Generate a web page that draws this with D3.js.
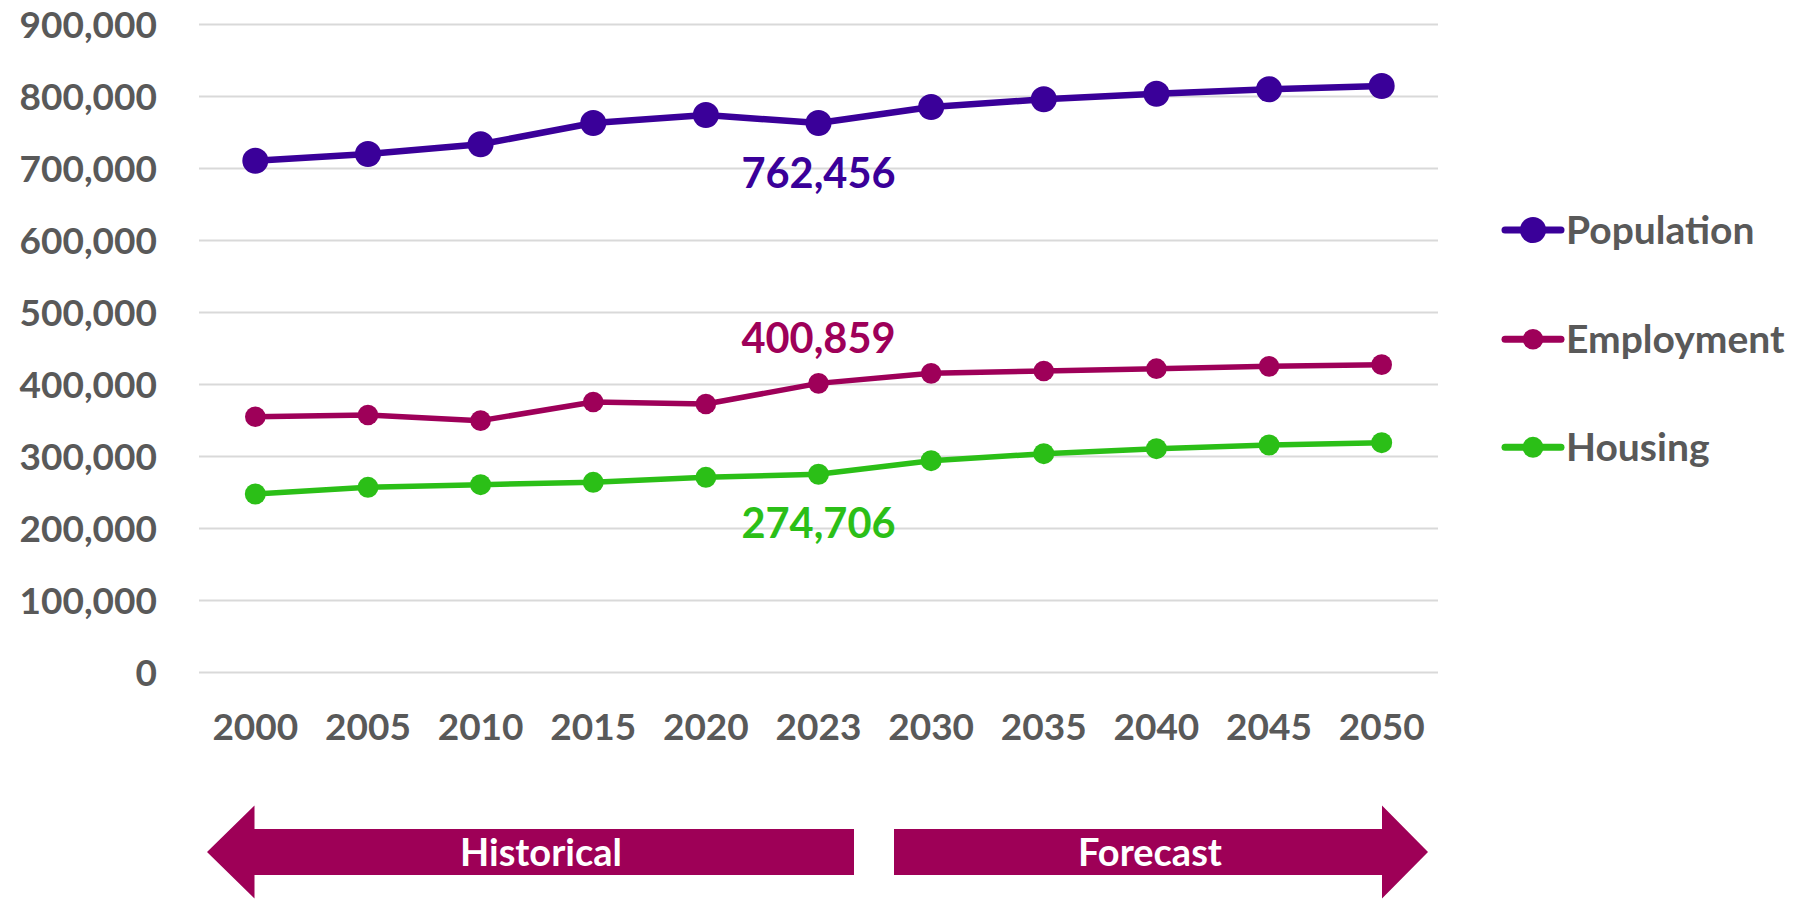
<!DOCTYPE html>
<html>
<head>
<meta charset="utf-8">
<script src="https://cdn.jsdelivr.net/npm/d3@7"></script>
<style>
  html, body { margin: 0; padding: 0; background: #ffffff; }
  svg { display: block; }
  text { font-family: Lato, "Open Sans", sans-serif; font-weight: 700; }
</style>
</head>
<body>
<svg id="chart" width="1807" height="899"></svg>
<script>
// ---- data ----
const years = ["2000","2005","2010","2015","2020","2023","2030","2035","2040","2045","2050"];
const population = [710000, 719500, 733000, 762500, 773600, 762456, 784700, 795400, 803200, 809300, 813900];
const employment = [354600, 356900, 349100, 375000, 372200, 400859, 414800, 418000, 421300, 424500, 426900];
const housing    = [247200, 256500, 260200, 263400, 270400, 274706, 293500, 303200, 310200, 315300, 318500];
const yTicks = [0, 100000, 200000, 300000, 400000, 500000, 600000, 700000, 800000, 900000];
const seriesNames = ["Population", "Employment", "Housing"];
const labelYear = "2023";
const periodLabels = ["Historical", "Forecast"];

// ---- styles ----
const colors = { Population: "#3A0099", Employment: "#9E0059", Housing: "#2BBF17" };
const lineW = { Population: 6.5, Employment: 5.5, Housing: 5.5 };
const markR = { Population: 13, Employment: 10.3, Housing: 10.5 };
const axisColor = "#595959";
const gridColor = "#d9d9d9";
const arrowColor = "#9E0057";

const svg = d3.select("#chart");
const plotL = 199, plotR = 1438, plotT = 24, plotB = 672;

const x = d3.scaleBand().domain(years).range([plotL, plotR]).paddingInner(0).paddingOuter(0);
const cx = d => x(d) + x.bandwidth() / 2;
const y = d3.scaleLinear().domain([0, 900000]).range([plotB, plotT]);

// ---- y axis with gridlines ----
const yAxis = svg.append("g")
  .attr("transform", `translate(${plotL},0)`)
  .call(d3.axisLeft(y).tickValues(yTicks).tickFormat(d3.format(",")).tickSize(-(plotR - plotL)).tickPadding(42));
yAxis.select(".domain").remove();
yAxis.selectAll(".tick line").attr("stroke", gridColor).attr("stroke-width", 2);
yAxis.selectAll(".tick text")
  .attr("fill", axisColor)
  .style("font-size", "37px")
  .style("font-family", "Lato, sans-serif")
  .style("font-weight", 700)
  .attr("dy", "0.36em");

// ---- x axis ----
const xAxis = svg.append("g")
  .attr("transform", `translate(0,${plotB})`)
  .call(d3.axisBottom(x).tickSize(0));
xAxis.select(".domain").remove();
xAxis.selectAll(".tick text")
  .attr("fill", axisColor)
  .attr("y", 68)
  .attr("dy", 0)
  .style("font-size", "37px")
  .style("font-family", "Lato, sans-serif")
  .style("font-weight", 700);

// ---- series ----
const seriesData = { Population: population, Employment: employment, Housing: housing };
const line = d3.line().x(d => cx(d.year)).y(d => y(d.value));

seriesNames.forEach(name => {
  const pts = years.map((yr, i) => ({ year: yr, value: seriesData[name][i] }));
  svg.append("path")
    .datum(pts)
    .attr("fill", "none")
    .attr("stroke", colors[name])
    .attr("stroke-width", lineW[name])
    .attr("stroke-linejoin", "round")
    .attr("d", line);
  svg.append("g").selectAll("circle")
    .data(pts)
    .join("circle")
    .attr("cx", d => cx(d.year))
    .attr("cy", d => y(d.value))
    .attr("r", markR[name])
    .attr("fill", colors[name]);
});

// ---- value labels at 2023 ----
const fmt = d3.format(",");
const li = years.indexOf(labelYear);
const labelOffsets = { Population: 64.7, Employment: -30.7, Housing: 64 };
seriesNames.forEach(name => {
  const v = seriesData[name][li];
  svg.append("text")
    .attr("x", cx(labelYear))
    .attr("y", y(v) + labelOffsets[name])
    .attr("text-anchor", "middle")
    .attr("fill", colors[name])
    .style("font-size", "41.5px")
    .text(fmt(v));
});

// ---- legend ----
const legendRows = [230, 339.3, 447.3];
seriesNames.forEach((name, i) => {
  const g = svg.append("g").attr("transform", `translate(0,${legendRows[i]})`);
  g.append("line")
    .attr("x1", 1505).attr("x2", 1561).attr("y1", 0).attr("y2", 0)
    .attr("stroke", colors[name]).attr("stroke-width", 7).attr("stroke-linecap", "round");
  g.append("circle").attr("cx", 1533).attr("cy", 0).attr("r", markR[name]).attr("fill", colors[name]);
  g.append("text")
    .attr("x", 1566).attr("y", 13.5)
    .attr("fill", axisColor)
    .style("font-size", "39px")
    .text(name);
});

// ---- Historical / Forecast arrows ----
const ay = 852, bodyHalf = 23, headHalf = 46.5;
const histPts = [[207, ay], [254.5, ay - headHalf], [254.5, ay - bodyHalf], [854, ay - bodyHalf],
                 [854, ay + bodyHalf], [254.5, ay + bodyHalf], [254.5, ay + headHalf]];
const forePts = [[894, ay - bodyHalf], [1382, ay - bodyHalf], [1382, ay - headHalf], [1428, ay],
                 [1382, ay + headHalf], [1382, ay + bodyHalf], [894, ay + bodyHalf]];
[histPts, forePts].forEach(p => {
  svg.append("polygon")
    .attr("points", p.map(q => q.join(",")).join(" "))
    .attr("fill", arrowColor);
});
svg.append("text").attr("x", 541).attr("y", 866).attr("text-anchor", "middle")
  .attr("fill", "#ffffff").style("font-size", "38px").text(periodLabels[0]);
svg.append("text").attr("x", 1150).attr("y", 866).attr("text-anchor", "middle")
  .attr("fill", "#ffffff").style("font-size", "38px").text(periodLabels[1]);
</script>
</body>
</html>
